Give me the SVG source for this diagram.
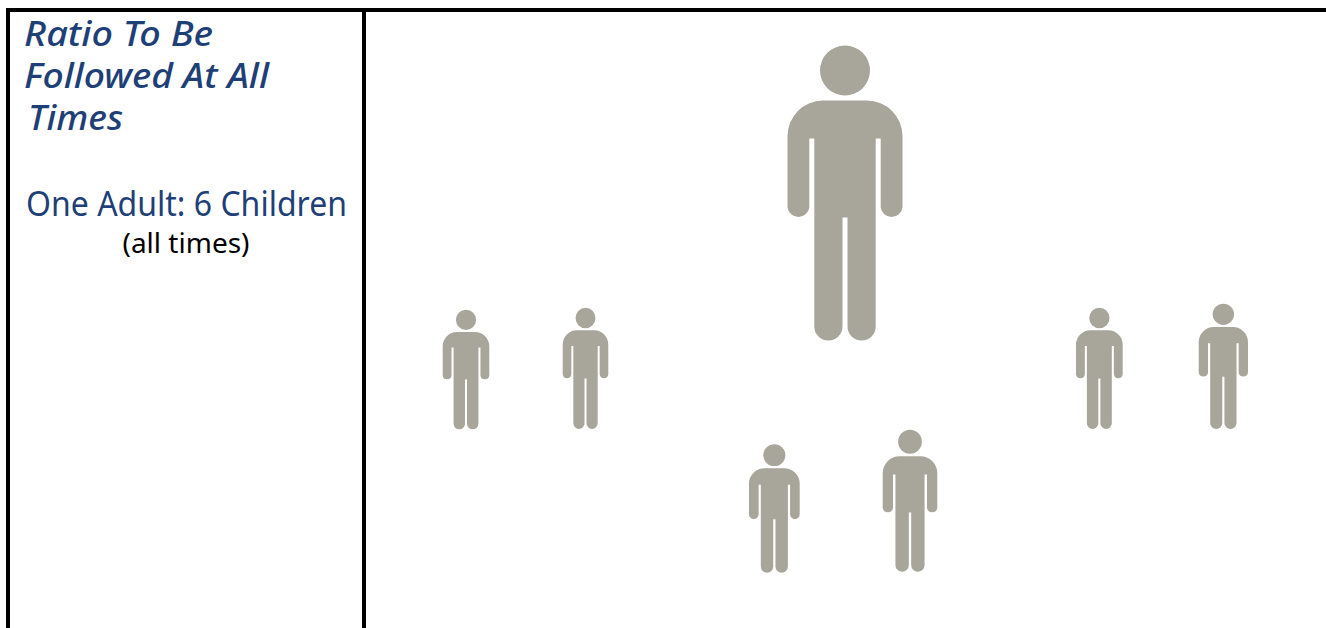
<svg xmlns="http://www.w3.org/2000/svg" width="1326" height="628" viewBox="0 0 1326 628">
<style>
.rule{fill:#000}
.fig{fill:#a8a59b}
.h{font-family:"Noto Sans","Open Sans",sans-serif;font-style:italic;font-weight:500;font-size:33.5px;fill:#1f3f77}
.s{font-family:"Noto Sans","Open Sans",sans-serif;font-size:35px;fill:#1f3f77}
.n{font-family:"Noto Sans","Open Sans",sans-serif;font-size:27px;fill:#000;text-anchor:middle}
</style>
<defs>
<symbol id="person" viewBox="-57.5 0 115 295" preserveAspectRatio="none" overflow="visible">
<circle cx="0" cy="25" r="25"/>
<path d="M-22,55H22A35.5,35.5 0 0 1 57.5,90.5V162A11,11 0 0 1 35.7,162V93H30.7V281A14.1,14.1 0 0 1 2.5,281V172H-2.5V281A14.1,14.1 0 0 1 -30.7,281V93H-35.7V162A11,11 0 0 1 -57.5,162V90.5A35.5,35.5 0 0 1 -22,55Z"/>
</symbol>
</defs>
<rect width="1326" height="628" fill="#fff"/>
<g id="frame">
<rect class="rule" x="6" y="8" width="1320" height="4"/>
<rect class="rule" x="6" y="8" width="4" height="620"/>
<rect class="rule" x="362" y="8" width="4" height="620"/>
</g>
<g id="caption">
<text class="h" x="24" y="46" textLength="189" lengthAdjust="spacingAndGlyphs">Ratio To Be</text>
<text class="h" x="24" y="88" textLength="245" lengthAdjust="spacingAndGlyphs">Followed At All</text>
<text class="h" x="28" y="130" textLength="95" lengthAdjust="spacingAndGlyphs">Times</text>
<text class="s" x="26" y="216" textLength="321" lengthAdjust="spacingAndGlyphs">One Adult: 6 Children</text>
<text class="n" x="186" y="253" textLength="127" lengthAdjust="spacingAndGlyphs">(all times)</text>
</g>
<g id="adult" class="fig"><use href="#person" x="787.5" y="45.5" width="115" height="295"/></g>
<g id="child-1" class="fig"><use href="#person" x="442.7" y="309.7" width="46.6" height="119.6"/></g>
<g id="child-2" class="fig"><use href="#person" x="562.7" y="307.7" width="45.6" height="121.3"/></g>
<g id="child-3" class="fig"><use href="#person" x="749" y="444.3" width="50.7" height="128.4"/></g>
<g id="child-4" class="fig"><use href="#person" x="882.7" y="429.7" width="54.6" height="142"/></g>
<g id="child-5" class="fig"><use href="#person" x="1076" y="307.7" width="46.7" height="121.3"/></g>
<g id="child-6" class="fig"><use href="#person" x="1198.7" y="303.7" width="49.3" height="125.3"/></g>
</svg>
